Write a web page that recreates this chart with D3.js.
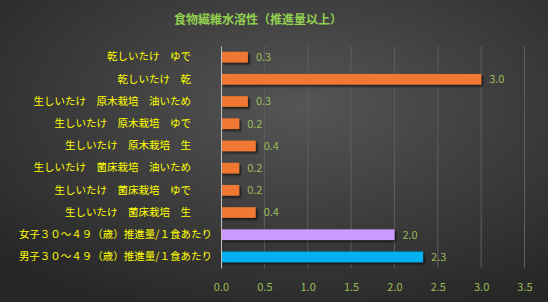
<!DOCTYPE html>
<html>
<head>
<meta charset="utf-8">
<script src="https://cdn.jsdelivr.net/npm/d3@7"></script>
<style>
  body { margin: 0; background: #333; }
  svg text { font-family: "Noto Sans CJK JP", "Noto Sans", sans-serif; }
</style>
</head>
<body>
<div id="chart"></div>
<script>
// chart data
const categories = [
  "乾しいたけ　ゆで",
  "乾しいたけ　乾",
  "生しいたけ　原木栽培　油いため",
  "生しいたけ　原木栽培　ゆで",
  "生しいたけ　原木栽培　生",
  "生しいたけ　菌床栽培　油いため",
  "生しいたけ　菌床栽培　ゆで",
  "生しいたけ　菌床栽培　生",
  "女子３０～４９（歳）推進量/１食あたり",
  "男子３０～４９（歳）推進量/１食あたり"
];
const values = [0.31, 3.0, 0.31, 0.21, 0.4, 0.21, 0.21, 0.4, 2.0, 2.33];
const barColors = ["#f07830", "#f07830", "#f07830", "#f07830", "#f07830",
                   "#f07830", "#f07830", "#f07830", "#cc99ff", "#00b0f0"];
const xTicks = [0, 0.5, 1.0, 1.5, 2.0, 2.5, 3.0, 3.5];
const title = "食物繊維水溶性（推進量以上）";

const width = 548;
const height = 302;
const margin = {left: 221, right: 23, top: 46, bottom: 34};

const svg = d3.select("#chart")
  .append("svg")
  .attr("width", width)
  .attr("height", height);

// background gradient
const defs = svg.append("defs");
const bg = defs.append("radialGradient")
  .attr("id", "bg")
  .attr("cx", "55%").attr("cy", "35%").attr("r", "75%");
bg.append("stop").attr("offset", "0%").attr("stop-color", "#555555");
bg.append("stop").attr("offset", "100%").attr("stop-color", "#262626");

const shadow = defs.append("filter").attr("id", "shadow")
  .attr("x", "-5%").attr("y", "-30%").attr("width", "115%").attr("height", "190%");
shadow.append("feDropShadow")
  .attr("dx", 2).attr("dy", 2).attr("stdDeviation", 1.2)
  .attr("flood-color", "#000").attr("flood-opacity", 0.6);

svg.append("rect")
  .attr("width", width).attr("height", height)
  .attr("fill", "url(#bg)");

// scales
const xScale = d3.scaleLinear()
  .domain([0, 3.5])
  .range([margin.left, margin.left + 303.5]);

const yScale = d3.scaleBand()
  .domain(d3.range(categories.length))
  .range([margin.top, height - margin.bottom])
  .paddingInner(0.52)
  .paddingOuter(0.26);

// gridlines
svg.append("g")
  .selectAll("line")
  .data(xTicks.slice(1))
  .join("line")
  .attr("x1", d => xScale(d)).attr("x2", d => xScale(d))
  .attr("y1", margin.top).attr("y2", height - margin.bottom)
  .attr("stroke", "#5e5e5e")
  .attr("stroke-width", 1);

// x axis tick labels
const xAxis = svg.append("g")
  .attr("transform", `translate(0,${height - margin.bottom + 12})`)
  .call(d3.axisBottom(xScale).tickValues(xTicks).tickFormat(d3.format(".1f")).tickSize(0));
xAxis.select(".domain").remove();
xAxis.selectAll("text")
  .attr("fill", "#9bbb59")
  .attr("font-size", "11px");

// bars
svg.append("g")
  .selectAll("rect")
  .data(values)
  .join("rect")
  .attr("x", xScale(0))
  .attr("y", (d, i) => yScale(i))
  .attr("width", d => xScale(d) - xScale(0))
  .attr("height", yScale.bandwidth())
  .attr("fill", (d, i) => barColors[i])
  .attr("filter", "url(#shadow)");

// value labels
svg.append("g")
  .selectAll("text")
  .data(values)
  .join("text")
  .attr("x", d => xScale(d) + 8)
  .attr("y", (d, i) => yScale(i) + yScale.bandwidth() / 2)
  .attr("dy", "0.35em")
  .attr("fill", "#9bbb59")
  .attr("font-size", "11px")
  .text(d => d3.format(".1f")(d));

// y axis
const yAxis = svg.append("g")
  .attr("transform", `translate(${margin.left},0)`)
  .call(d3.axisLeft(yScale).tickFormat(i => categories[i]).tickSize(0).tickPadding(30));
yAxis.select(".domain")
  .attr("stroke", "#bfbfbf");
// long labels run closer to the axis, like the original
yAxis.selectAll("text")
  .attr("fill", "#ffff00")
  .attr("font-size", "10.5px")
  .attr("x", i => categories[i].length > 16 ? -9 : -30);

// title
svg.append("text")
  .attr("x", 258)
  .attr("y", 24)
  .attr("text-anchor", "middle")
  .attr("fill", "#92d050")
  .attr("font-size", "12px")
  .attr("font-weight", "bold")
  .text(title);
</script>
</body>
</html>
